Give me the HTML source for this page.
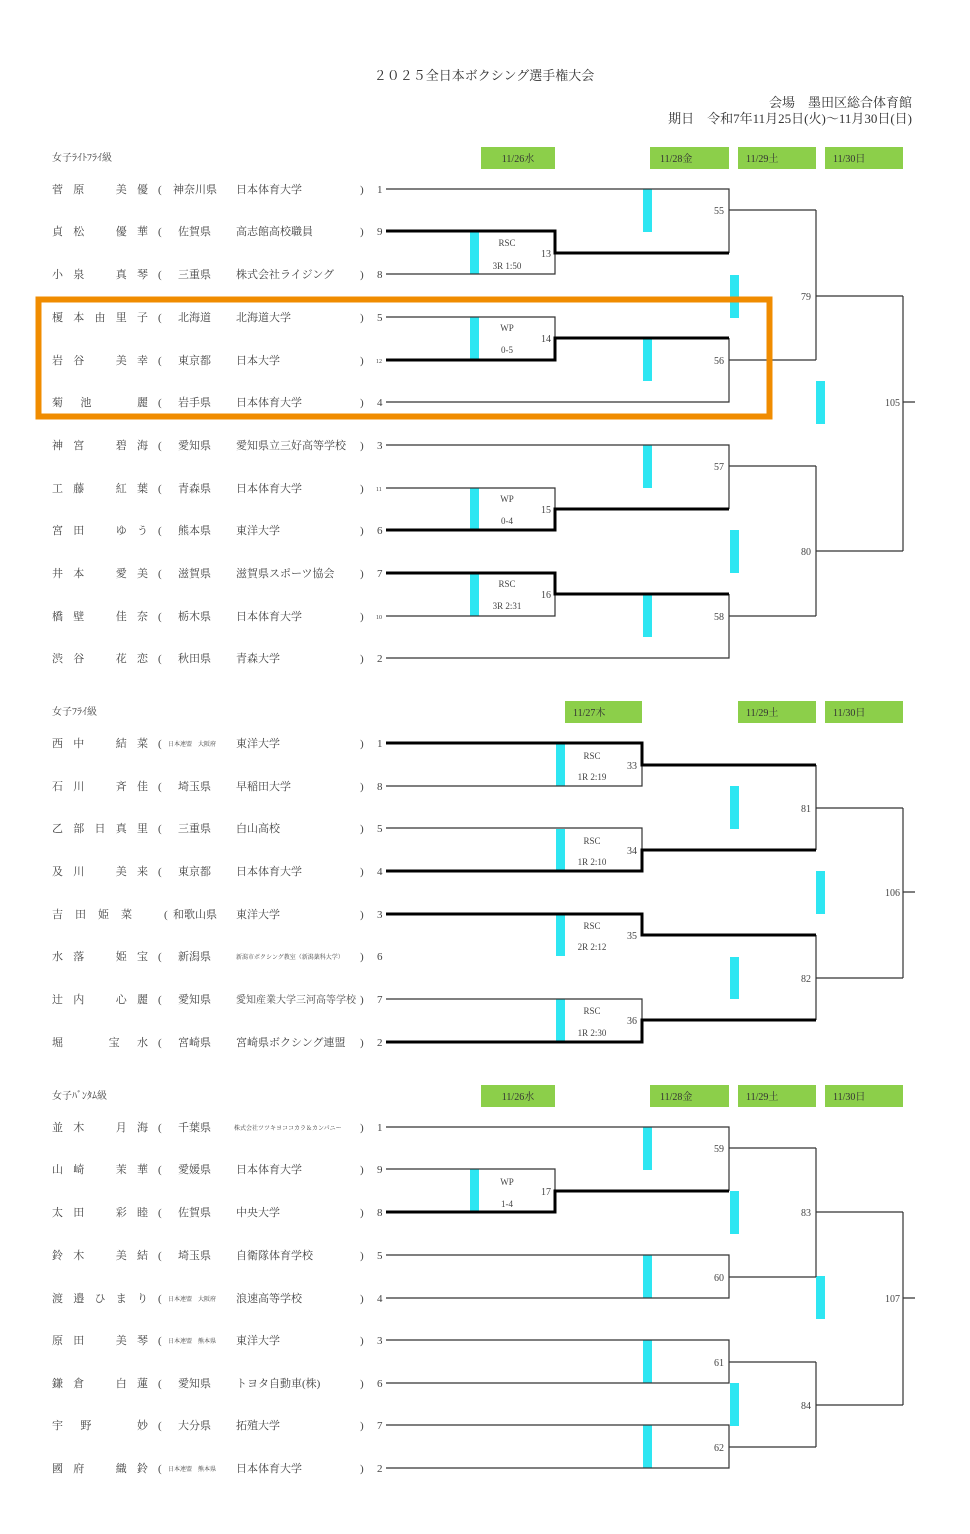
<!DOCTYPE html>
<html><head><meta charset="utf-8"><style>
html,body{margin:0;padding:0;background:#fff;}
svg{display:block;}
text{font-family:"Liberation Serif","Noto Serif CJK SC",serif;fill:#444;font-size:11px;}
.t{stroke:#333;stroke-width:1.2;fill:none;}
.k{stroke:#000;stroke-width:3;fill:none;}
.c{fill:#2ee6f2;}
.g{fill:#8ccf4a;}
.h{font-size:10px;fill:#333;}
.n{font-size:10px;text-anchor:end;}
.s{font-size:9px;}
.m{font-size:6px;}
</style></head><body>
<svg width="970" height="1534" viewBox="0 0 970 1534" xmlns="http://www.w3.org/2000/svg">
<rect width="970" height="1534" fill="#fff"/>
<text x="484" y="80" text-anchor="middle" style="font-size:13px;fill:#333">２０２５全日本ボクシング選手権大会</text>
<text x="912" y="107" text-anchor="end" style="font-size:13px;fill:#333">会場　墨田区総合体育館</text>
<text x="912" y="123" text-anchor="end" style="font-size:13px;fill:#333">期日　令和7年11月25日(火)〜11月30日(日)</text>

<!-- headers section 1 -->
<text x="52" y="161" style="font-size:10px">女子ﾗｲﾄﾌﾗｲ級</text>
<rect class="g" x="481" y="147" width="74" height="22"/><text class="h" x="518" y="162" text-anchor="middle">11/26水</text>
<rect class="g" x="650" y="147" width="79" height="22"/><text class="h" x="660" y="162">11/28金</text>
<rect class="g" x="738" y="147" width="78" height="22"/><text class="h" x="746" y="162">11/29土</text>
<rect class="g" x="825" y="147" width="78" height="22"/><text class="h" x="833" y="162">11/30日</text>

<text x="52" y="715" style="font-size:10px">女子ﾌﾗｲ級</text>
<rect class="g" x="565" y="701" width="77" height="22"/><text class="h" x="573" y="716">11/27木</text>
<rect class="g" x="738" y="701" width="78" height="22"/><text class="h" x="746" y="716">11/29土</text>
<rect class="g" x="825" y="701" width="78" height="22"/><text class="h" x="833" y="716">11/30日</text>

<text x="52" y="1099" style="font-size:10px">女子ﾊﾞﾝﾀﾑ級</text>
<rect class="g" x="481" y="1085" width="74" height="22"/><text class="h" x="518" y="1100" text-anchor="middle">11/26水</text>
<rect class="g" x="650" y="1085" width="79" height="22"/><text class="h" x="660" y="1100">11/28金</text>
<rect class="g" x="738" y="1085" width="78" height="22"/><text class="h" x="746" y="1100">11/29土</text>
<rect class="g" x="825" y="1085" width="78" height="22"/><text class="h" x="833" y="1100">11/30日</text>

<!-- rows -->
<g>
<text x="52" y="193" textLength="96" lengthAdjust="spacing">菅原　美優</text><text x="158" y="193">(</text><text x="173" y="193">神奈川県</text><text x="236" y="193">日本体育大学</text><text x="360" y="193">)</text><text x="377" y="193">1</text>
<text x="52" y="235" textLength="96" lengthAdjust="spacing">貞松　優華</text><text x="158" y="235">(</text><text x="178" y="235">佐賀県</text><text x="236" y="235">高志館高校職員</text><text x="360" y="235">)</text><text x="377" y="235">9</text>
<text x="52" y="278" textLength="96" lengthAdjust="spacing">小泉　真琴</text><text x="158" y="278">(</text><text x="178" y="278">三重県</text><text x="236" y="278">株式会社ライジング</text><text x="360" y="278">)</text><text x="377" y="278">8</text>
<text x="52" y="321" textLength="96" lengthAdjust="spacing">榎本由里子</text><text x="158" y="321">(</text><text x="178" y="321">北海道</text><text x="236" y="321">北海道大学</text><text x="360" y="321">)</text><text x="377" y="321">5</text>
<text x="52" y="364" textLength="96" lengthAdjust="spacing">岩谷　美幸</text><text x="158" y="364">(</text><text x="178" y="364">東京都</text><text x="236" y="364">日本大学</text><text x="360" y="364">)</text><text x="376" y="363" class="m">12</text>
<text x="52" y="406" textLength="96" lengthAdjust="spacing">菊池　麗</text><text x="158" y="406">(</text><text x="178" y="406">岩手県</text><text x="236" y="406">日本体育大学</text><text x="360" y="406">)</text><text x="377" y="406">4</text>
<text x="52" y="449" textLength="96" lengthAdjust="spacing">神宮　碧海</text><text x="158" y="449">(</text><text x="178" y="449">愛知県</text><text x="236" y="449">愛知県立三好高等学校</text><text x="360" y="449">)</text><text x="377" y="449">3</text>
<text x="52" y="492" textLength="96" lengthAdjust="spacing">工藤　紅葉</text><text x="158" y="492">(</text><text x="178" y="492">青森県</text><text x="236" y="492">日本体育大学</text><text x="360" y="492">)</text><text x="376" y="491" class="m">11</text>
<text x="52" y="534" textLength="96" lengthAdjust="spacing">宮田　ゆう</text><text x="158" y="534">(</text><text x="178" y="534">熊本県</text><text x="236" y="534">東洋大学</text><text x="360" y="534">)</text><text x="377" y="534">6</text>
<text x="52" y="577" textLength="96" lengthAdjust="spacing">井本　愛美</text><text x="158" y="577">(</text><text x="178" y="577">滋賀県</text><text x="236" y="577">滋賀県スポーツ協会</text><text x="360" y="577">)</text><text x="377" y="577">7</text>
<text x="52" y="620" textLength="96" lengthAdjust="spacing">橋壁　佳奈</text><text x="158" y="620">(</text><text x="178" y="620">栃木県</text><text x="236" y="620">日本体育大学</text><text x="360" y="620">)</text><text x="376" y="619" class="m">10</text>
<text x="52" y="662" textLength="96" lengthAdjust="spacing">渋谷　花恋</text><text x="158" y="662">(</text><text x="178" y="662">秋田県</text><text x="236" y="662">青森大学</text><text x="360" y="662">)</text><text x="377" y="662">2</text>

<text x="52" y="747" textLength="96" lengthAdjust="spacing">西中　結菜</text><text x="158" y="747">(</text><text x="168" y="746" class="m">日本連盟　大阪府</text><text x="236" y="747">東洋大学</text><text x="360" y="747">)</text><text x="377" y="747">1</text>
<text x="52" y="790" textLength="96" lengthAdjust="spacing">石川　斉佳</text><text x="158" y="790">(</text><text x="178" y="790">埼玉県</text><text x="236" y="790">早稲田大学</text><text x="360" y="790">)</text><text x="377" y="790">8</text>
<text x="52" y="832" textLength="96" lengthAdjust="spacing">乙部日真里</text><text x="158" y="832">(</text><text x="178" y="832">三重県</text><text x="236" y="832">白山高校</text><text x="360" y="832">)</text><text x="377" y="832">5</text>
<text x="52" y="875" textLength="96" lengthAdjust="spacing">及川　美来</text><text x="158" y="875">(</text><text x="178" y="875">東京都</text><text x="236" y="875">日本体育大学</text><text x="360" y="875">)</text><text x="377" y="875">4</text>
<text x="52" y="918" textLength="80" lengthAdjust="spacing">吉田姫菜</text><text x="164" y="918">(</text><text x="173" y="918">和歌山県</text><text x="236" y="918">東洋大学</text><text x="360" y="918">)</text><text x="377" y="918">3</text>
<text x="52" y="960" textLength="96" lengthAdjust="spacing">水落　姫宝</text><text x="158" y="960">(</text><text x="178" y="960">新潟県</text><text x="236" y="959" class="m">新潟市ボクシング教室（新潟薬科大学）</text><text x="360" y="960">)</text><text x="377" y="960">6</text>
<text x="52" y="1003" textLength="96" lengthAdjust="spacing">辻内　心麗</text><text x="158" y="1003">(</text><text x="178" y="1003">愛知県</text><text x="236" y="1003" style="font-size:10px">愛知産業大学三河高等学校</text><text x="360" y="1003">)</text><text x="377" y="1003">7</text>
<text x="52" y="1046" textLength="96" lengthAdjust="spacing">堀　宝水</text><text x="158" y="1046">(</text><text x="178" y="1046">宮崎県</text><text x="236" y="1046">宮崎県ボクシング連盟</text><text x="360" y="1046">)</text><text x="377" y="1046">2</text>

<text x="52" y="1131" textLength="96" lengthAdjust="spacing">並木　月海</text><text x="158" y="1131">(</text><text x="178" y="1131">千葉県</text><text x="234" y="1130" class="m">株式会社ツツキヨココカラ＆カンパニー</text><text x="360" y="1131">)</text><text x="377" y="1131">1</text>
<text x="52" y="1173" textLength="96" lengthAdjust="spacing">山崎　茉華</text><text x="158" y="1173">(</text><text x="178" y="1173">愛媛県</text><text x="236" y="1173">日本体育大学</text><text x="360" y="1173">)</text><text x="377" y="1173">9</text>
<text x="52" y="1216" textLength="96" lengthAdjust="spacing">太田　彩睦</text><text x="158" y="1216">(</text><text x="178" y="1216">佐賀県</text><text x="236" y="1216">中央大学</text><text x="360" y="1216">)</text><text x="377" y="1216">8</text>
<text x="52" y="1259" textLength="96" lengthAdjust="spacing">鈴木　美結</text><text x="158" y="1259">(</text><text x="178" y="1259">埼玉県</text><text x="236" y="1259">自衛隊体育学校</text><text x="360" y="1259">)</text><text x="377" y="1259">5</text>
<text x="52" y="1302" textLength="96" lengthAdjust="spacing">渡邉ひまり</text><text x="158" y="1302">(</text><text x="168" y="1301" class="m">日本連盟　大阪府</text><text x="236" y="1302">浪速高等学校</text><text x="360" y="1302">)</text><text x="377" y="1302">4</text>
<text x="52" y="1344" textLength="96" lengthAdjust="spacing">原田　美琴</text><text x="158" y="1344">(</text><text x="168" y="1343" class="m">日本連盟　熊本県</text><text x="236" y="1344">東洋大学</text><text x="360" y="1344">)</text><text x="377" y="1344">3</text>
<text x="52" y="1387" textLength="96" lengthAdjust="spacing">鎌倉　白蓮</text><text x="158" y="1387">(</text><text x="178" y="1387">愛知県</text><text x="236" y="1387">トヨタ自動車(株)</text><text x="360" y="1387">)</text><text x="377" y="1387">6</text>
<text x="52" y="1429" textLength="96" lengthAdjust="spacing">宇野　妙</text><text x="158" y="1429">(</text><text x="178" y="1429">大分県</text><text x="236" y="1429">拓殖大学</text><text x="360" y="1429">)</text><text x="377" y="1429">7</text>
<text x="52" y="1472" textLength="96" lengthAdjust="spacing">國府　織鈴</text><text x="158" y="1472">(</text><text x="168" y="1471" class="m">日本連盟　熊本県</text><text x="236" y="1472">日本体育大学</text><text x="360" y="1472">)</text><text x="377" y="1472">2</text>
</g>

<!-- cyan bars -->
<rect class="c" x="470" y="232" width="9" height="42"/>
<rect class="c" x="643" y="189" width="9" height="43"/>
<rect class="c" x="730" y="275" width="9" height="43"/>
<rect class="c" x="470" y="317" width="9" height="43"/>
<rect class="c" x="643" y="339" width="9" height="42"/>
<rect class="c" x="816" y="381" width="9" height="43"/>
<rect class="c" x="643" y="445" width="9" height="43"/>
<rect class="c" x="470" y="488" width="9" height="42"/>
<rect class="c" x="730" y="530" width="9" height="43"/>
<rect class="c" x="470" y="573" width="9" height="43"/>
<rect class="c" x="643" y="595" width="9" height="42"/>

<rect class="c" x="556" y="744" width="9" height="42"/>
<rect class="c" x="730" y="786" width="9" height="43"/>
<rect class="c" x="556" y="829" width="9" height="42"/>
<rect class="c" x="816" y="871" width="9" height="43"/>
<rect class="c" x="556" y="914" width="9" height="42"/>
<rect class="c" x="730" y="957" width="9" height="42"/>
<rect class="c" x="556" y="999" width="9" height="43"/>

<rect class="c" x="643" y="1127" width="9" height="43"/>
<rect class="c" x="470" y="1169" width="9" height="43"/>
<rect class="c" x="730" y="1191" width="9" height="43"/>
<rect class="c" x="643" y="1255" width="9" height="43"/>
<rect class="c" x="816" y="1276" width="9" height="43"/>
<rect class="c" x="643" y="1340" width="9" height="43"/>
<rect class="c" x="730" y="1383" width="9" height="43"/>
<rect class="c" x="643" y="1425" width="9" height="43"/>

<!-- lines section 1 -->
<path class="t" d="M386 189H729V253 M386 274H555V253 M386 317H555V338 M386 402H729V338 M729 210H816 M729 360H816 M816 210V360 M816 296H903 M386 445H729V509 M386 488H555V509 M729 466H816 M386 616H555V594 M386 658H729V594 M729 616H816 M816 466V616 M816 551H903 M903 296V551 M903 402H915"/>
<path class="k" d="M386 231H555V253H729 M386 360H555V338H729 M386 530H555V509H729 M386 573H555V594H729"/>
<!-- section 2 -->
<path class="t" d="M386 786H642V765 M386 828H642V850 M386 999H642V1020 M816 765V850 M816 808H903 M816 935V1020 M816 978H903 M903 808V978 M903 892H915"/>
<path class="k" d="M386 743H642V765H816 M386 871H642V850H816 M386 914H642V935H816 M386 1042H642V1020H816"/>
<!-- section 3 -->
<path class="t" d="M386 1127H729V1191 M386 1169H555V1191 M729 1148H816 M386 1255H729V1298H386 M729 1277H816 M816 1148V1277 M816 1212H903 M386 1340H729V1383H386 M729 1362H816 M386 1425H729V1468H386 M729 1447H816 M816 1362V1447 M816 1405H903 M903 1212V1405 M903 1298H915"/>
<path class="k" d="M386 1212H555V1191H729"/>

<!-- match labels -->
<text class="s" x="507" y="246" text-anchor="middle">RSC</text><text class="s" x="507" y="269" text-anchor="middle">3R 1:50</text><text class="n" x="551" y="257">13</text>
<text class="s" x="507" y="331" text-anchor="middle">WP</text><text class="s" x="507" y="353" text-anchor="middle">0-5</text><text class="n" x="551" y="342">14</text>
<text class="s" x="507" y="502" text-anchor="middle">WP</text><text class="s" x="507" y="524" text-anchor="middle">0-4</text><text class="n" x="551" y="513">15</text>
<text class="s" x="507" y="587" text-anchor="middle">RSC</text><text class="s" x="507" y="609" text-anchor="middle">3R 2:31</text><text class="n" x="551" y="598">16</text>
<text class="n" x="724" y="214">55</text><text class="n" x="724" y="364">56</text><text class="n" x="724" y="470">57</text><text class="n" x="724" y="620">58</text>
<text class="n" x="811" y="300">79</text><text class="n" x="811" y="555">80</text><text class="n" x="900" y="406">105</text>

<text class="s" x="592" y="759" text-anchor="middle">RSC</text><text class="s" x="592" y="780" text-anchor="middle">1R 2:19</text><text class="n" x="637" y="769">33</text>
<text class="s" x="592" y="844" text-anchor="middle">RSC</text><text class="s" x="592" y="865" text-anchor="middle">1R 2:10</text><text class="n" x="637" y="854">34</text>
<text class="s" x="592" y="929" text-anchor="middle">RSC</text><text class="s" x="592" y="950" text-anchor="middle">2R 2:12</text><text class="n" x="637" y="939">35</text>
<text class="s" x="592" y="1014" text-anchor="middle">RSC</text><text class="s" x="592" y="1036" text-anchor="middle">1R 2:30</text><text class="n" x="637" y="1024">36</text>
<text class="n" x="811" y="812">81</text><text class="n" x="811" y="982">82</text><text class="n" x="900" y="896">106</text>

<text class="s" x="507" y="1185" text-anchor="middle">WP</text><text class="s" x="507" y="1207" text-anchor="middle">1-4</text><text class="n" x="551" y="1195">17</text>
<text class="n" x="724" y="1152">59</text><text class="n" x="724" y="1281">60</text><text class="n" x="724" y="1366">61</text><text class="n" x="724" y="1451">62</text>
<text class="n" x="811" y="1216">83</text><text class="n" x="811" y="1409">84</text><text class="n" x="900" y="1302">107</text>

<!-- orange highlight -->
<rect x="38.5" y="299.5" width="731" height="117" fill="none" stroke="#f08c00" stroke-width="6"/>
</svg>
</body></html>
